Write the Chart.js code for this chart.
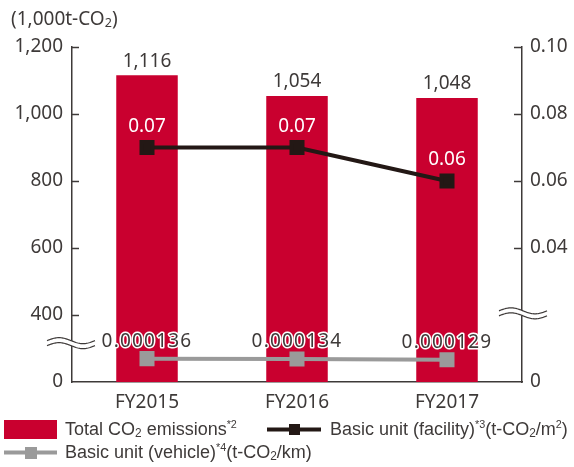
<!DOCTYPE html>
<html>
<head>
<meta charset="utf-8">
<script src="https://cdn.jsdelivr.net/npm/chart.js@4.4.1/dist/chart.umd.min.js"></script>
<style>
  html, body { margin: 0; padding: 0; background: #fff; }
  canvas { display: block; }
</style>
</head>
<body>
<canvas id="c" width="574" height="467"></canvas>
<script>
// Fiscal years on the x axis
const categories = ['FY2015', 'FY2016', 'FY2017'];
// Total CO2 emissions, thousand t-CO2 (left axis)
const totalEmissions = [1116, 1054, 1048];
// Basic unit per facility area, t-CO2/m2 (right axis)
const unitFacility = [0.07, 0.07, 0.06];
// Basic unit per vehicle distance, t-CO2/km (own compressed scale)
const unitVehicle = [0.000136, 0.000134, 0.000129];
// Axis tick labels
const leftTicks = [0, 400, 600, 800, 1000, 1200];
const rightTicks = ['0', '0.04', '0.06', '0.08', '0.10'];

const TEXT = '#3e3a39';
const AXIS = '#3e3a39';
const RED = '#c9002f';
const BLACK = '#231815';
const GREY = '#9a9a9a';
const FONT = '"Noto Sans", sans-serif';
const LFONT = '"Liberation Sans", Arial, sans-serif';

// Legend entries: rich-text segments (sub = subscript, sup = superscript)
const legendTotal = [{t: 'Total CO'}, {t: '2', sub: true}, {t: ' emissions'}, {t: '*2', sup: true}];
const legendFacility = [{t: 'Basic unit (facility)'}, {t: '*3', sup: true}, {t: '(t-CO'}, {t: '2', sub: true}, {t: '/m'}, {t: '2', sup: true}, {t: ')'}];
const legendVehicle = [{t: 'Basic unit (vehicle)'}, {t: '*4', sup: true}, {t: '(t-CO'}, {t: '2', sub: true}, {t: '/km)'}];
const axisTitle = [{t: '(1,000t-CO'}, {t: '2', sub: true}, {t: ')'}];

function drawRich(ctx, segs, x, y, size, color, family) {
  ctx.save();
  ctx.fillStyle = color;
  ctx.textBaseline = 'middle';
  ctx.textAlign = 'left';
  let cx = x;
  for (const s of segs) {
    let fs = size, dy = 0;
    if (s.sub) { fs = size * 0.66; dy = size * 0.2; }
    if (s.sup) { fs = size * 0.6; dy = -size * 0.3; }
    ctx.font = fs + 'px ' + family;
    ctx.fillText(s.t, cx, y + dy);
    cx += ctx.measureText(s.t).width;
  }
  ctx.restore();
}

function drawBreak(ctx, cx, cy) {
  const half = 24, amp = 3, gap = 5;
  const wave = (x, off) => cy + off - amp * Math.sin((x - (cx - half)) / (2 * half) * 2 * Math.PI);
  ctx.save();
  ctx.beginPath();
  for (let x = cx - half; x <= cx + half; x++) {
    const y = wave(x, -gap / 2);
    x === cx - half ? ctx.moveTo(x, y) : ctx.lineTo(x, y);
  }
  for (let x = cx + half; x >= cx - half; x--) ctx.lineTo(x, wave(x, gap / 2));
  ctx.closePath();
  ctx.fillStyle = '#fff';
  ctx.fill();
  ctx.strokeStyle = AXIS;
  ctx.lineWidth = 1.2;
  for (const off of [-gap / 2, gap / 2]) {
    ctx.beginPath();
    for (let x = cx - half; x <= cx + half; x++) {
      const y = wave(x, off);
      x === cx - half ? ctx.moveTo(x, y) : ctx.lineTo(x, y);
    }
    ctx.stroke();
  }
  ctx.restore();
}

const decorations = {
  id: 'decorations',
  afterDatasetsDraw(chart) {
    const ctx = chart.ctx;
    const bars = chart.getDatasetMeta(0).data;
    const fac = chart.getDatasetMeta(1).data;
    const veh = chart.getDatasetMeta(2).data;
    ctx.save();
    ctx.textAlign = 'center';
    ctx.textBaseline = 'middle';
    ctx.font = '19px ' + FONT;
    // bar totals
    bars.forEach((b, i) => {
      ctx.fillStyle = TEXT;
      ctx.fillText(totalEmissions[i].toLocaleString('en-US'), b.x, b.y - 14);
    });
    // facility values in white
    fac.forEach((p, i) => {
      ctx.fillStyle = '#fff';
      ctx.fillText(unitFacility[i].toFixed(2), p.x, p.y - 21);
    });
    // vehicle values with white halo
    ctx.letterSpacing = '1.2px';
    veh.forEach((p, i) => {
      const s = unitVehicle[i].toFixed(6);
      ctx.lineWidth = 3;
      ctx.strokeStyle = '#fff';
      ctx.lineJoin = 'round';
      ctx.strokeText(s, p.x, p.y - 17);
      ctx.fillStyle = TEXT;
      ctx.fillText(s, p.x, p.y - 17);
    });
    ctx.restore();
  },
  afterDraw(chart) {
    const ctx = chart.ctx;
    const a = chart.chartArea;
    const y = chart.scales.y, y1 = chart.scales.y1;
    ctx.save();
    ctx.strokeStyle = AXIS;
    ctx.lineWidth = 1.5;
    // inward ticks
    y.ticks.forEach(t => {
      if (t.value === 200) return;
      const py = Math.round(y.getPixelForValue(t.value)) + 0.5;
      ctx.beginPath(); ctx.moveTo(a.left, py); ctx.lineTo(a.left + 7, py); ctx.stroke();
    });
    y1.ticks.forEach(t => {
      if (t.value === 0 || Math.abs(t.value - 0.02) < 1e-9) return;
      const py = Math.round(y1.getPixelForValue(t.value)) + 0.5;
      ctx.beginPath(); ctx.moveTo(a.right, py); ctx.lineTo(a.right - 8, py); ctx.stroke();
    });
    ctx.restore();
    // axis breaks
    drawBreak(ctx, a.left - 1, y.getPixelForValue(316));
    drawBreak(ctx, a.right + 1, y1.getPixelForValue(0.0205));
    // axis title
    drawRich(ctx, axisTitle, 11, 20, 19, TEXT, FONT);
    // legend
    ctx.save();
    ctx.fillStyle = RED;
    ctx.fillRect(4, 420, 53, 19);
    ctx.strokeStyle = BLACK; ctx.lineWidth = 4;
    ctx.beginPath(); ctx.moveTo(267, 429.5); ctx.lineTo(321, 429.5); ctx.stroke();
    ctx.fillStyle = BLACK; ctx.fillRect(289, 424, 11, 11);
    ctx.strokeStyle = GREY;
    ctx.beginPath(); ctx.moveTo(4, 452.5); ctx.lineTo(57, 452.5); ctx.stroke();
    ctx.fillStyle = GREY; ctx.fillRect(25, 447, 12, 12);
    ctx.restore();
    drawRich(ctx, legendTotal, 65, 430, 18, TEXT, LFONT);
    drawRich(ctx, legendFacility, 330, 430, 18, TEXT, LFONT);
    drawRich(ctx, legendVehicle, 65, 453, 18, TEXT, LFONT);
  }
};

new Chart(document.getElementById('c'), {
  data: {
    labels: categories,
    datasets: [
      {
        type: 'bar', label: 'Total CO2 emissions', data: totalEmissions,
        backgroundColor: RED, yAxisID: 'y', order: 3,
        barPercentage: 0.41, categoryPercentage: 1.0
      },
      {
        type: 'line', label: 'Basic unit (facility)', data: unitFacility,
        borderColor: BLACK, backgroundColor: BLACK, borderWidth: 4,
        pointStyle: 'rect', pointRadius: 7.8, pointHoverRadius: 7.8,
        yAxisID: 'y1', order: 1, tension: 0
      },
      {
        type: 'line', label: 'Basic unit (vehicle)', data: unitVehicle,
        borderColor: GREY, backgroundColor: GREY, borderWidth: 4,
        pointStyle: 'rect', pointRadius: 7.8, pointHoverRadius: 7.8,
        yAxisID: 'yv', order: 2, tension: 0
      }
    ]
  },
  options: {
    responsive: false,
    animation: false,
    layout: { padding: { top: 47, left: 0, right: 0, bottom: 0 } },
    plugins: { legend: { display: false }, tooltip: { enabled: false } },
    scales: {
      x: {
        grid: { display: false, drawTicks: false },
        border: { display: true, color: AXIS, width: 1.5 },
        ticks: { color: TEXT, font: { family: FONT, size: 19 }, padding: 9 },
        afterFit(s) { s.height = 85; }
      },
      y: {
        position: 'left', min: 200, max: 1200,
        grid: { display: false, drawTicks: false },
        border: { display: true, color: AXIS, width: 1.5 },
        ticks: {
          stepSize: 200, padding: 9, color: TEXT,
          font: { family: FONT, size: 19 },
          callback: v => {
            const lbl = v === 200 ? leftTicks[0] : v;
            return leftTicks.includes(lbl) ? lbl.toLocaleString('en-US') : '';
          }
        },
        afterFit(s) { s.width = 72; }
      },
      y1: {
        position: 'right', min: 0, max: 0.1,
        grid: { display: false, drawTicks: false },
        border: { display: true, color: AXIS, width: 1.5 },
        ticks: {
          stepSize: 0.02, padding: 8, color: TEXT,
          font: { family: FONT, size: 19 },
          callback: v => {
            const s = v === 0 ? '0' : v.toFixed(2);
            return rightTicks.includes(s) ? s : '';
          }
        },
        afterFit(s) { s.width = 52; }
      },
      yv: { display: false, min: 0, max: 0.00195 }
    }
  },
  plugins: [decorations]
});
</script>
</body>
</html>
